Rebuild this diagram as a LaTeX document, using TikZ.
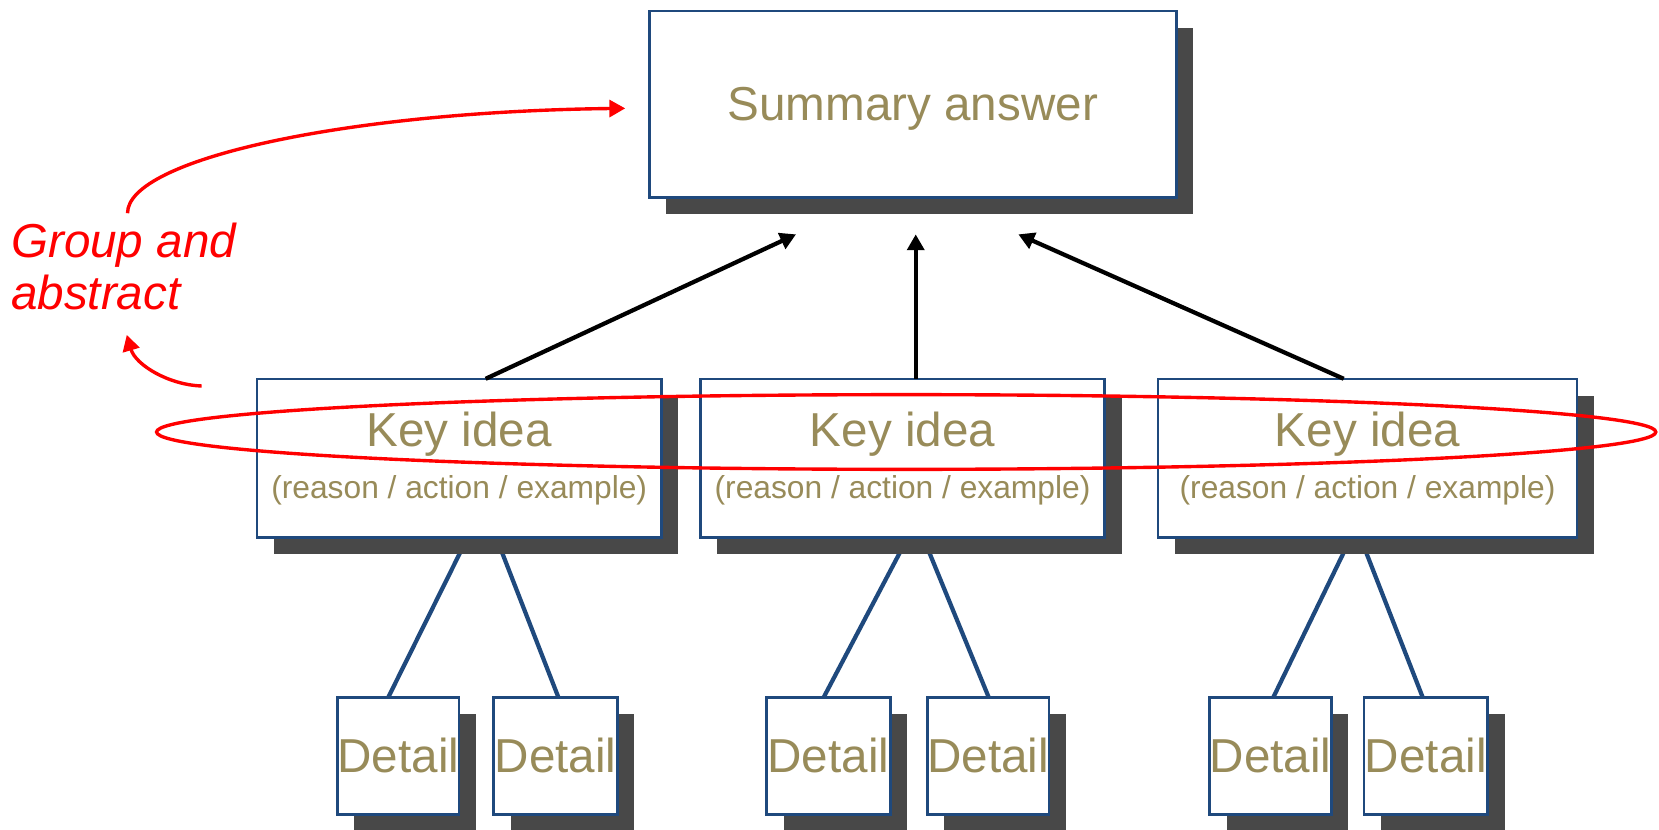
\documentclass[tikz,border=0pt]{standalone}
\usepackage{fontspec}
\setmainfont{Liberation Sans}
\usepackage{tikz}
\usetikzlibrary{positioning}
\usetikzlibrary{shadows}
\usetikzlibrary{backgrounds}
\usetikzlibrary{arrows.meta}
\definecolor{ideatext}{RGB}{152,139,89}
\definecolor{boxblue}{RGB}{31,73,125}
\definecolor{shadowgray}{RGB}{72,72,72}
\newcommand{\keytext}{Key idea\\{\fontsize{30}{49}\selectfont (reason / action / example)}}
\tikzset{x=1pt, y=1pt, % one unit is one point
every node/.style={outer sep=0pt, inner sep=0pt},
box/.style={ % Sets the properties for each box
  draw=boxblue, line width=2.4pt, fill=white, text=ideatext,
  drop shadow={shadow xshift=16pt, shadow yshift=-16pt, fill=shadowgray, opacity=1}},
summary/.style={box, minimum width=498pt, minimum height=176pt, text depth=0pt,
  font=\fontsize{45}{54}\selectfont},
keyidea/.style={box, minimum width=382pt, minimum height=150pt, align=center,
  font=\fontsize{45}{49}\selectfont},
detail/.style={box, minimum width=113pt, minimum height=111pt,
  font=\fontsize{45}{54}\selectfont},
branch/.style={draw=boxblue, line width=4pt}, % Key idea to detail
>={Triangle[length=15pt, width=16pt]}, % Plain filled arrow heads
lift/.style={->, line width=4pt},
redmark/.style={draw=red, line width=3.2pt}}

\begin{document}
\begin{tikzpicture}
\useasboundingbox (0,0) rectangle (1568,-784);

\node[summary] (sum) at (862.75,-98.5) {Summary answer};

\node[keyidea] (key1) at (434,-433) {\keytext};
\node[keyidea, right=37pt of key1] (key2) {\keytext};
\node[keyidea, minimum width=396pt, right=50.5pt of key2] (key3) {\keytext};

\node[detail] (d1) at (376.5,-714.5) {Detail};
\node[detail, minimum width=117pt, right=32.5pt of d1] (d2) {Detail};
\node[detail, minimum width=117pt, right=141pt of d2] (d3) {Detail};
\node[detail, right=35pt of d3] (d4) {Detail};
\node[detail, right=151.7pt of d4] (d5) {Detail};
\node[detail, minimum width=117pt, right=30.8pt of d5] (d6) {Detail};

\node[text=red, font=\fontsize{45}{49}\selectfont\itshape, align=left, anchor=north west]
  (grp) at (10.5,-210.9) {Group and\\abstract};

% arrows up to the summary
\draw[lift] ([xshift=25pt]key1.north) -- ([xshift=-110.4pt,yshift=-35pt]sum.south);
\draw[lift] ([xshift=12.5pt]key2.north) -- ([xshift=2.75pt,yshift=-35pt]sum.south);
\draw[lift] ([xshift=-22.5pt]key3.north) -- ([xshift=99.75pt,yshift=-35pt]sum.south);

% details hang under the key ideas
\begin{pgfonlayer}{background}
\draw[branch] ([xshift=8pt]key1.south) -- ([xshift=-9.5pt]d1.north);
\draw[branch] ([xshift=35pt]key1.south) -- ([xshift=2.7pt]d2.north);
\draw[branch] ([xshift=5pt]key2.south) -- ([xshift=-4.5pt]d3.north);
\draw[branch] ([xshift=19.5pt]key2.south) -- ([xshift=0.4pt]d4.north);
\draw[branch] ([xshift=-15.6pt]key3.south) -- ([xshift=2.7pt]d5.north);
\draw[branch] ([xshift=-6.8pt]key3.south) -- ([xshift=-3pt]d6.north);
\end{pgfonlayer}

% grouping ring and the abstraction arrows
\draw[redmark] (856.5,-408.3) ellipse [x radius=708.5pt, y radius=35.3pt];
\draw[redmark, ->] ([xshift=3.7pt,yshift=9.4pt]grp.north)
  .. controls +(0,51.5) and +(-261,-3) .. ([xshift=-22.8pt,yshift=-3.9pt]sum.west);
\draw[redmark, ->] ([xshift=-52.4pt,yshift=68.2pt]key1.west)
  .. controls +(-31,1) and +(8.3,-28.4) .. ([xshift=3pt,yshift=-23.6pt]grp.south);
\end{tikzpicture}
\end{document}
